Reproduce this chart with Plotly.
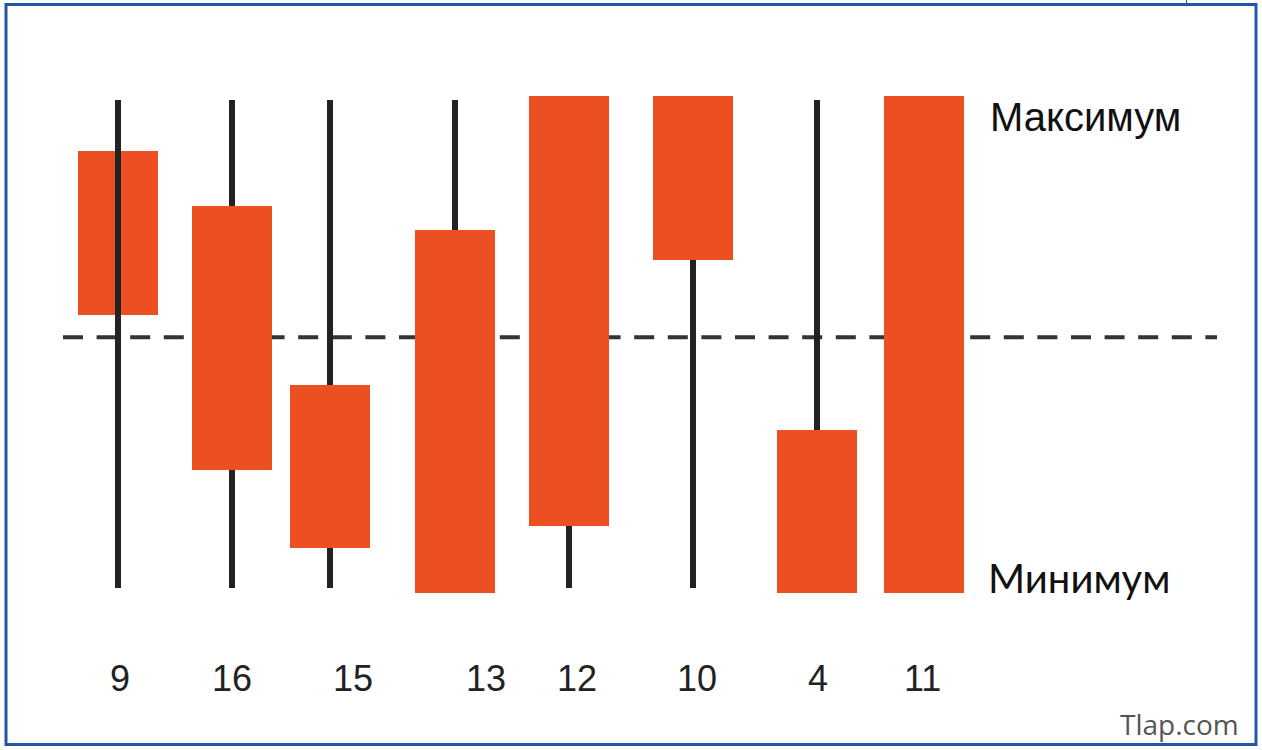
import plotly.graph_objects as go

# ---- data (wick range 0..100) ----
labels = ["9", "16", "15", "13", "12", "10", "4", "11"]
wick_high = [100, 100, 100, 100, 100, 100, 100, 100]
wick_low = [0, 0, 0, 0, 0, 0, 0, 0]
body_top = [89.5, 78.3, 41.6, 73.4, 100.8, 100.8, 32.4, 100.8]
body_bottom = [55.9, 24.2, 8.2, -1.0, 12.7, 67.2, -1.0, -1.0]
mid_level = 51.4
wick_in_front = [True, False, False, False, False, False, False, False]

# ---- layout constants (pixel-based x axis) ----
centers = [117.5, 231.5, 329.5, 454.5, 569, 693, 817, 923.5]
label_x = [120, 232, 353, 486, 577, 697, 818, 922]
body_w = 80
wick_w = 6
BODY = "#EC4F21"
WICK = "#222222"

W, H = 1262, 750
# y mapping: pixel 588 -> 0, pixel 100 -> 100
k = 100 / 488
y_range = [(588 - H) * k, 588 * k]

fig = go.Figure()

# wicks behind bodies
fig.add_trace(go.Bar(
    x=[c for c, f in zip(centers, wick_in_front) if not f],
    y=[h - l for h, l, f in zip(wick_high, wick_low, wick_in_front) if not f],
    base=[l for l, f in zip(wick_low, wick_in_front) if not f],
    width=wick_w, marker=dict(color=WICK, line=dict(width=0)),
    hoverinfo="skip", showlegend=False))

# bodies
fig.add_trace(go.Bar(
    x=centers,
    y=[t - b for t, b in zip(body_top, body_bottom)],
    base=body_bottom,
    width=body_w, marker=dict(color=BODY, line=dict(width=0)),
    hoverinfo="skip", showlegend=False))

# wicks in front of bodies
fig.add_trace(go.Bar(
    x=[c for c, f in zip(centers, wick_in_front) if f],
    y=[h - l for h, l, f in zip(wick_high, wick_low, wick_in_front) if f],
    base=[l for l, f in zip(wick_low, wick_in_front) if f],
    width=wick_w, marker=dict(color=WICK, line=dict(width=0)),
    hoverinfo="skip", showlegend=False))

# dashed mid line (below traces)
fig.add_shape(type="line", xref="x", yref="y", x0=63, x1=1217, y0=mid_level, y1=mid_level,
              line=dict(color="#333333", width=4, dash="20px,13.6px"), layer="below")

# category labels
for lx, lab in zip(label_x, labels):
    fig.add_annotation(x=lx, y=(588 - 678) * k, xref="x", yref="y", text=lab, showarrow=False,
                       font=dict(family="Liberation Sans, Arial", size=36, color="#222222"))

fig.add_annotation(x=1085, y=(588 - 117) * k, xref="x", yref="y", text="Максимум", showarrow=False,
                   font=dict(family="Liberation Sans, Arial", size=40, color="#111111"))
fig.add_annotation(x=1079, y=(588 - 578) * k, xref="x", yref="y", text="Минимум", showarrow=False,
                   font=dict(family="Lato, Noto Sans", size=40, color="#111111"))
fig.add_annotation(x=1179, y=(588 - 724) * k, xref="x", yref="y", text="Tlap.com", showarrow=False,
                   font=dict(family="Open Sans, DejaVu Sans", size=28, color="#555555"))

# blue frame
fig.add_shape(type="rect", xref="paper", yref="paper",
              x0=6 / W, x1=1256 / W, y0=1 - 744.5 / H, y1=1 - 4.5 / H,
              line=dict(color="#2356A6", width=3), fillcolor="rgba(0,0,0,0)", layer="above")
fig.add_shape(type="line", xref="paper", yref="paper",
              x0=1186.5 / W, x1=1186.5 / W, y0=1 - 4 / H, y1=1,
              line=dict(color="#555555", width=1))

fig.update_layout(
    width=W, height=H,
    margin=dict(l=0, r=0, t=0, b=0),
    paper_bgcolor="white", plot_bgcolor="white",
    barmode="overlay", bargap=0,
    xaxis=dict(range=[0, W], visible=False, fixedrange=True),
    yaxis=dict(range=y_range, visible=False, fixedrange=True),
    showlegend=False,
)

fig.write_html("out.html", config={"displayModeBar": False})
